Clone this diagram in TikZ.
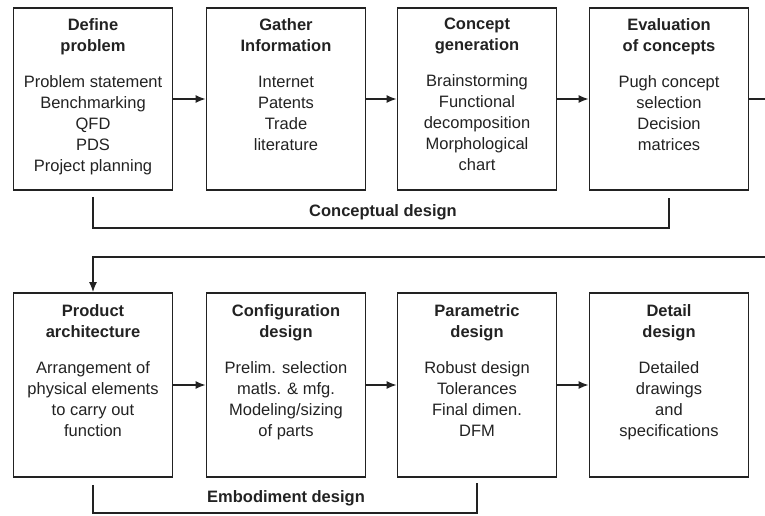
\documentclass[tikz,border=0pt]{standalone}
\usepackage{fontspec}
\setmainfont{Liberation Sans}
\usetikzlibrary{arrows.meta}
\definecolor{ink}{HTML}{222222}
\begin{document}
\begin{tikzpicture}[x=1pt,y=-1pt,
  stagebox/.style={draw=ink,line width=1.8pt,minimum width=159pt,inner sep=0pt},
  toprow/.style={stagebox,minimum height=182pt},
  botrow/.style={stagebox,minimum height=184pt},
  stagetext/.style={anchor=north,align=center,inner sep=0pt,text=ink,
    font=\fontsize{16.5}{21}\selectfont},
  phase/.style={text=ink,inner sep=0pt,font=\fontsize{16.5}{21}\selectfont\bfseries},
  flow/.style={draw=ink,line width=1.5pt,-{Latex[length=10pt,width=8pt]}},
  brace/.style={draw=ink,line width=1.5pt}]
\useasboundingbox (0,0) rectangle (765,515);
\clip (0,0) rectangle (765,515);

% conceptual design row
\node[toprow] (b1) at (93,99) {};
\node[toprow] (b2) at (286,99) {};
\node[toprow] (b3) at (477,99) {};
\node[toprow] (b4) at (669,99) {};
% embodiment / detail row
\node[botrow] (b5) at (93,385) {};
\node[botrow] (b6) at (286,385) {};
\node[botrow] (b7) at (477,385) {};
\node[botrow] (b8) at (669,385) {};

\node[stagetext] (t1) at ([yshift=-11pt]b1.north) {\textbf{Define}\\\textbf{problem}\\[15pt]
  Problem statement\\Benchmarking\\QFD\\PDS\\Project planning};
\node[stagetext] (t2) at ([yshift=-11pt]b2.north) {\textbf{Gather}\\\textbf{Information}\\[15pt]
  Internet\\Patents\\Trade\\literature};
\node[stagetext] (t3) at ([yshift=-11pt]b3.north) {\textbf{Concept}\\\textbf{generation}\\[15pt]
  Brainstorming\\Functional\\decomposition\\Morphological\\chart};
\node[stagetext] (t4) at ([yshift=-11pt]b4.north) {\textbf{Evaluation}\\\textbf{of concepts}\\[15pt]
  Pugh concept\\selection\\Decision\\matrices};
\node[stagetext] (t5) at ([yshift=-12pt]b5.north) {\textbf{Product}\\\textbf{architecture}\\[15pt]
  Arrangement of\\physical elements\\to carry out\\function};
\node[stagetext] (t6) at ([yshift=-12pt]b6.north) {\textbf{Configuration}\\\textbf{design}\\[15pt]
  Prelim. selection\\matls. \& mfg.\\Modeling/sizing\\of parts};
\node[stagetext] (t7) at ([yshift=-12pt]b7.north) {\textbf{Parametric}\\\textbf{design}\\[15pt]
  Robust design\\Tolerances\\Final dimen.\\DFM};
\node[stagetext] (t8) at ([yshift=-12pt]b8.north) {\textbf{Detail}\\\textbf{design}\\[15pt]
  Detailed\\drawings\\and\\specifications};

% flow between stages
\draw[flow] (b1) -- (b2);
\draw[flow] (b2) -- (b3);
\draw[flow] (b3) -- (b4);
\draw[flow] (b5) -- (b6);
\draw[flow] (b6) -- (b7);
\draw[flow] (b7) -- (b8);
\coordinate (wrapA) at (775,99);
\coordinate (wrapB) at (775,257);
\draw[flow] (b4.east) -- (wrapA) -- (wrapB) -| (b5.north);

% phase brackets
\coordinate (c1) at ([yshift=-6pt]b1.south);
\coordinate (c2) at ([yshift=-7pt]b4.south);
\coordinate (e1) at ([yshift=-7pt]b5.south);
\coordinate (e2) at ([yshift=-5pt]b7.south);
\draw[brace] (c1) |- (380,228) -| (c2);
\draw[brace] (e1) |- (380,513) -| (e2);
\node[phase] (conc) at (383,212) {Conceptual design};
\node[phase] (emb) at (286,498) {Embodiment design};
\end{tikzpicture}
\end{document}
